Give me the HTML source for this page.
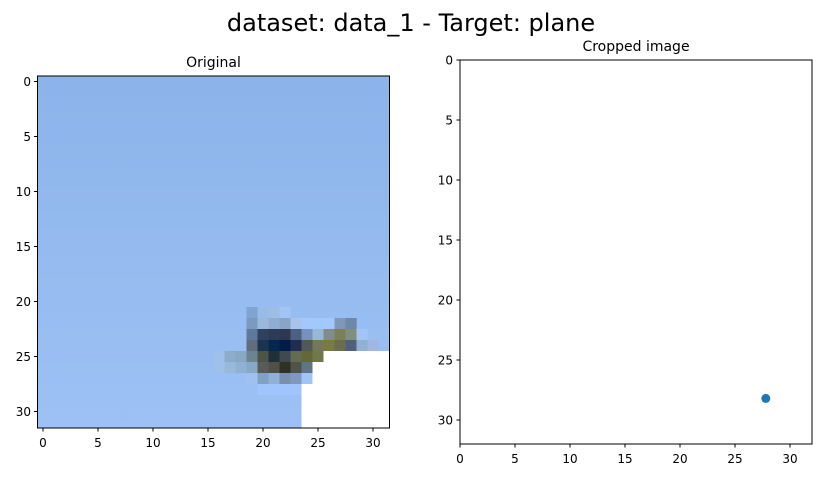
<!DOCTYPE html>
<html><head><meta charset="utf-8"><style>
html,body{margin:0;padding:0;background:#fff;}
svg{display:block;font-family:"DejaVu Sans","Liberation Sans",sans-serif;}
</style></head><body>
<svg id="fig" width="822" height="478" viewBox="0 0 822 478">
<defs><linearGradient id="bg" x1="0" y1="0" x2="0" y2="1"><stop offset="0" stop-color="#8cb4ea"/><stop offset="1" stop-color="#9dc1f5"/></linearGradient></defs>
<text x="411" y="31" font-size="24" text-anchor="middle" fill="#000">dataset: data_1 - Target: plane</text>
<text x="213.5" y="67" font-size="14" text-anchor="middle">Original</text>
<text x="636" y="51" font-size="14" text-anchor="middle">Cropped image</text>
<g id="left"></g>
<g id="right"></g>
</svg>
<script>
const ticks=[0,5,10,15,20,25,30];
// plane pixel cells: [row, col, color]
const planeCells=[
[21,19,"#80a4d0"],[21,20,"#98bce8"],[21,21,"#9ebde4"],[21,22,"#a2c4f4"],
[22,19,"#7a9ac0"],[22,20,"#9ab8dc"],[22,21,"#90acd0"],[22,22,"#88a4c8"],[22,23,"#a8c4ec"],[22,24,"#a4c8fc"],[22,25,"#a0c8fc"],[22,26,"#a4c8fc"],[22,27,"#8098b8"],[22,28,"#7088a8"],
[23,19,"#60789c"],[23,20,"#304060"],[23,21,"#2c3c58"],[23,22,"#2c3850"],[23,23,"#4c6084"],[23,24,"#7890c0"],[23,25,"#98b8d8"],[23,26,"#808c90"],[23,27,"#7c8058"],[23,28,"#80907c"],[23,29,"#a4c4f4"],
[24,19,"#606c80"],[24,20,"#1c3450"],[24,21,"#042850"],[24,22,"#001c48"],[24,23,"#202c50"],[24,24,"#505858"],[24,25,"#747858"],[24,26,"#787c40"],[24,27,"#6c6c50"],[24,28,"#50607c"],[24,29,"#90b0d4"],[24,30,"#a0b8e0"],
[25,16,"#a0c0ec"],[25,17,"#8caccc"],[25,18,"#88a8c4"],[25,19,"#6c8490"],[25,20,"#4c5448"],[25,21,"#203038"],[25,22,"#404850"],[25,23,"#646c50"],[25,24,"#646838"],[25,25,"#707848"],
[26,16,"#a0c0ec"],[26,17,"#98b8dc"],[26,18,"#90b0d4"],[26,19,"#88a8c8"],[26,20,"#585c58"],[26,21,"#505048"],[26,22,"#303028"],[26,23,"#505448"],[26,24,"#607488"],
[27,19,"#a0c0f0"],[27,20,"#80a0c4"],[27,21,"#90b0d8"],[27,22,"#7890b0"],[27,23,"#8098c0"],[27,24,"#a0c4f8"],
[28,20,"#a0c4fc"],[28,21,"#a0c4fc"],[28,22,"#a0c4fc"],[28,23,"#a0c4fc"]
];
// white (masked) region: [row, firstCol]
const whiteRows=[[25,26],[26,25],[27,25],[28,24],[29,24],[30,24],[31,24]];
const ptX=[27.8], ptY=[28.2];
const NS="http://www.w3.org/2000/svg";
function mk(p,t,a){const e=document.createElementNS(NS,t);for(const k in a)e.setAttribute(k,a[k]);p.appendChild(e);return e;}
const L=document.getElementById('left');
const lx=v=>37.5+11*(v+0.5), ly=v=>76+11*(v+0.5);
const bg=mk(L,'rect',{x:37.5,y:76,width:352,height:352,fill:'url(#bg)'});


planeCells.forEach(c=>{
 const r=mk(L,'rect',{x:lx(c[1]-0.5),y:ly(c[0]-0.5),width:11.2,height:11.2,fill:c[2]});
 
 
});
whiteRows.forEach(w=>{
 const r=mk(L,'rect',{x:lx(w[1]-0.5),y:ly(w[0]-0.5),width:lx(31.5)-lx(w[1]-0.5),height:11.2,fill:'#fff'});
 
 
});
mk(L,'rect',{x:37.5,y:76,width:352,height:352,fill:'none',stroke:'#000','stroke-width':1});
ticks.forEach(v=>{
 mk(L,'line',{x1:lx(v),x2:lx(v),y1:428,y2:431.5,stroke:'#000'});
 const t=mk(L,'text',{x:lx(v),y:447,'font-size':12,'text-anchor':'middle'});t.textContent=v;
 
 
 mk(L,'line',{x1:34,x2:37.5,y1:ly(v),y2:ly(v),stroke:'#000'});
 const u=mk(L,'text',{x:31,y:ly(v)+4.5,'font-size':12,'text-anchor':'end'});u.textContent=v;
 
 
});
const R=document.getElementById('right');
const rx=v=>460+11*v, ry=v=>60+12*v;
mk(R,'rect',{x:460,y:60,width:352,height:384,fill:'none',stroke:'#000','stroke-width':1});
ticks.forEach(v=>{
 mk(R,'line',{x1:rx(v),x2:rx(v),y1:444,y2:447.5,stroke:'#000'});
 const t=mk(R,'text',{x:rx(v),y:463,'font-size':12,'text-anchor':'middle'});t.textContent=v;
 
 
 mk(R,'line',{x1:456.5,x2:460,y1:ry(v),y2:ry(v),stroke:'#000'});
 const u=mk(R,'text',{x:453,y:ry(v)+4.5,'font-size':12,'text-anchor':'end'});u.textContent=v;
 
 
});
ptX.forEach((x,i)=>{
 const c=mk(R,'circle',{cx:rx(x),cy:ry(ptY[i]),r:4.5,fill:'#1f77b4'});
 
 
});
</script>
</body></html>
